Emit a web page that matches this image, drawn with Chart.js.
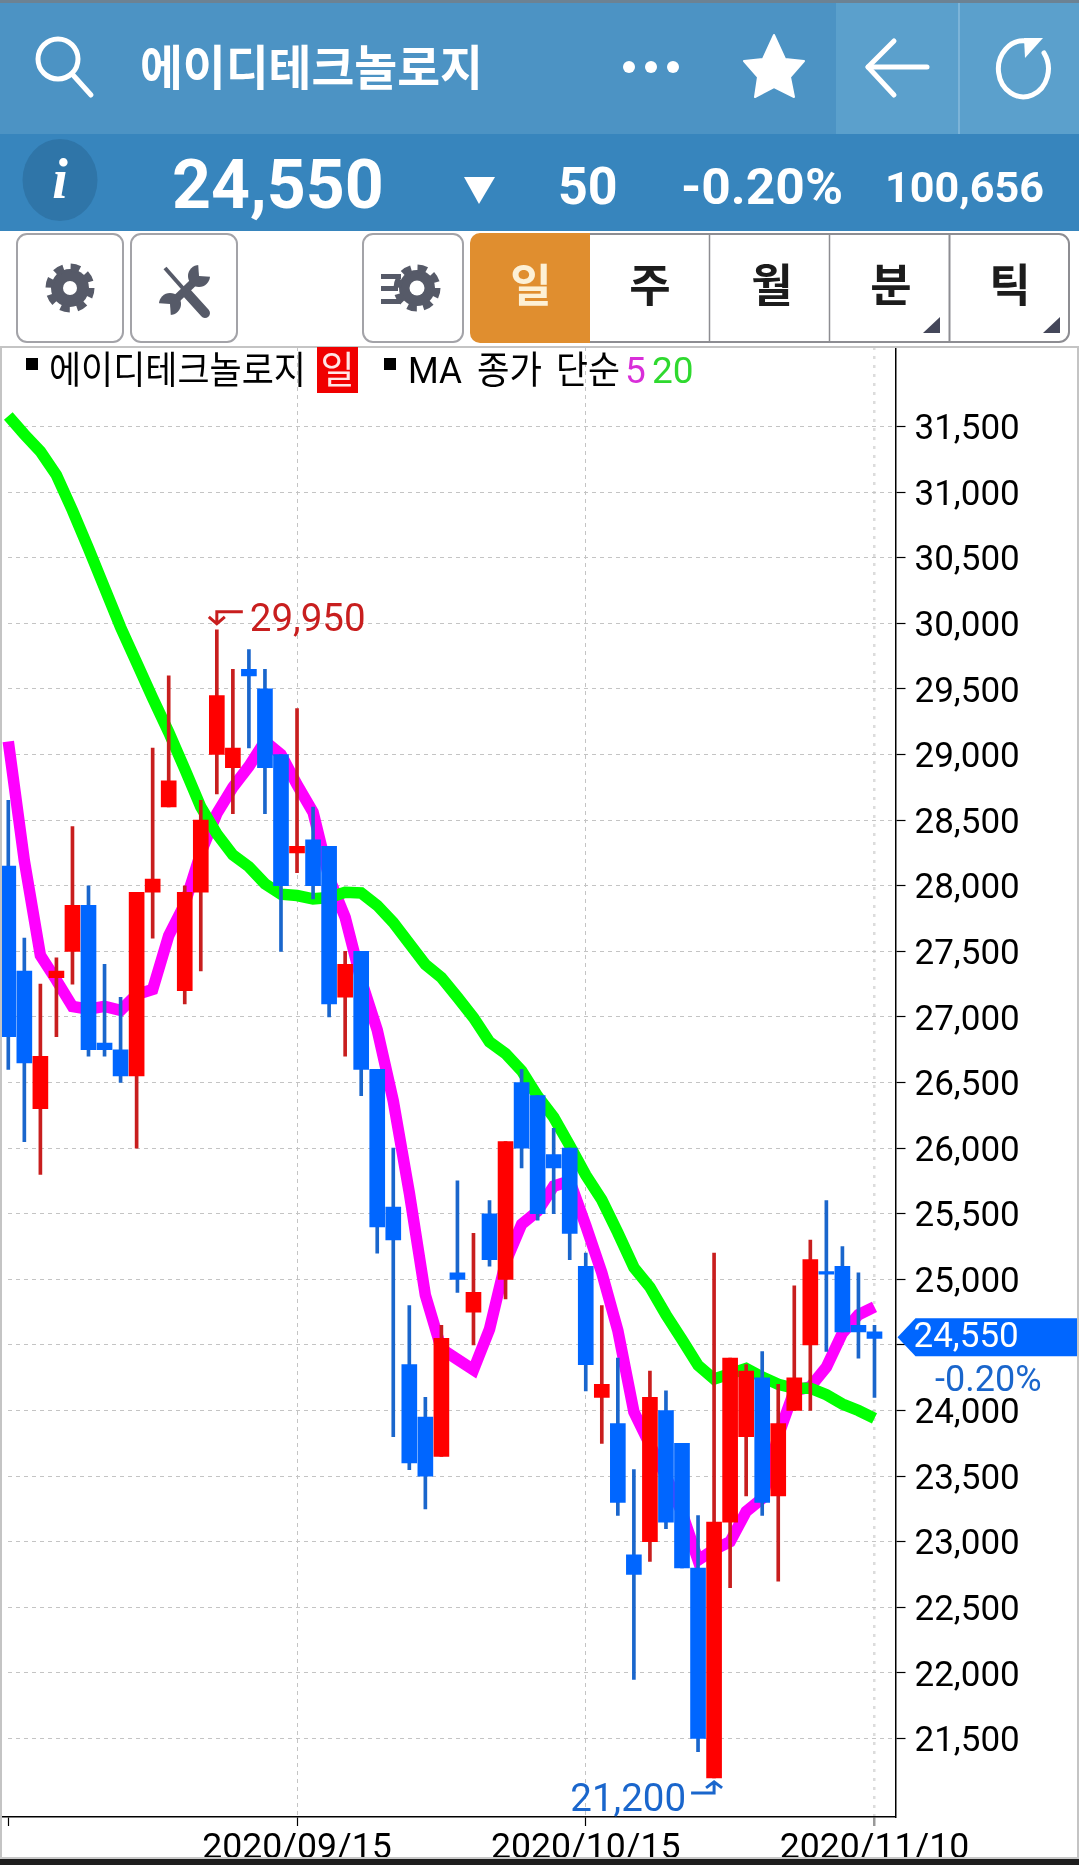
<!DOCTYPE html>
<html lang="ko">
<head>
<meta charset="UTF-8" />
<title>에이디테크놀로지</title>
<script src="https://cdn.jsdelivr.net/npm/chart.js"></script>
<style>
  html, body { margin: 0; padding: 0; background: #fff; overflow: hidden; }
  #page { position: relative; width: 1079px; height: 1865px; overflow: hidden; }
  #chrome { position: absolute; left: 0; top: 0; z-index: 2; }
  #chartWrap { position: absolute; left: 0; top: 347px; width: 1079px; height: 1518px; z-index: 1; }
  #chrome text { font-family: "Noto Sans CJK KR", sans-serif; }
  #chrome text.num { font-family: Roboto, sans-serif; font-weight: 700; fill: #fff; }
  #chrome text.tab { font-weight: 700; font-size: 45px; fill: #1c1c1c; text-anchor: middle; }
  #chrome text.leg { font-size: 38px; fill: #000; }
  #chrome text.legn { font-family: Roboto, sans-serif; font-size: 37px; }
  #bottomBar { position: absolute; left: 0; top: 1857px; width: 1079px; height: 8px; background: #1e1e1e; border-top: 2px solid #c8c8c8; box-sizing: border-box; z-index: 3; }
  #frameL, #frameR { position: absolute; top: 347px; width: 2px; height: 1510px; background: #c4c4c4; z-index: 2; }
  #frameL { left: 0; }
  #frameR { left: 1077px; }
</style>
</head>
<body>
<div id="page">
  <svg id="chrome" width="1079" height="400" xmlns="http://www.w3.org/2000/svg">
    <rect x="0" y="0" width="1079" height="3" fill="#6c8293"/>
    <rect x="0" y="3" width="1079" height="131" fill="#4c93c4"/>
    <rect x="836" y="3" width="243" height="131" fill="#5ba0cc"/>
    <rect x="958" y="3" width="2" height="131" fill="#7cb4d8"/>
    <rect x="0" y="134" width="1079" height="97" fill="#3785bd"/>

    <!-- search -->
    <circle cx="58" cy="59" r="20" fill="none" stroke="#fff" stroke-width="5"/>
    <line x1="73" y1="75" x2="91" y2="95" stroke="#fff" stroke-width="5" stroke-linecap="round"/>
    <text x="140" y="85" font-size="48" font-weight="700" fill="#fff" textLength="343" lengthAdjust="spacingAndGlyphs">에이디테크놀로지</text>

    <circle cx="629" cy="67" r="6" fill="#fff"/>
    <circle cx="651" cy="67" r="6" fill="#fff"/>
    <circle cx="673" cy="67" r="6" fill="#fff"/>
    <polygon points="774,35 785,59 804,61 790,77 794,97 774,87 755,97 758,77 744,61 763,59" fill="#fff" stroke="#fff" stroke-width="2" stroke-linejoin="round"/>
    <polyline points="894,41 868,67 894,95" fill="none" stroke="#fff" stroke-width="5" stroke-linecap="round" stroke-linejoin="round"/>
    <line x1="868" y1="67" x2="927" y2="67" stroke="#fff" stroke-width="5" stroke-linecap="round"/>
    <path d="M1044 53 A25 28 0 1 1 1026 41" fill="none" stroke="#fff" stroke-width="5" stroke-linecap="round"/>
    <polygon points="1024,38 1043,38 1025,58" fill="#fff"/>

    <!-- info row -->
    <ellipse cx="60" cy="180" rx="37.5" ry="41" fill="#2f75a8"/>
    <text x="60" y="198" text-anchor="middle" font-size="56" font-weight="700" font-style="italic" fill="#fff" style="font-family:'Liberation Serif',serif">i</text>
    <text class="num" x="172" y="208" font-size="68">24,550</text>
    <polygon points="464,177 495,177 479,204" fill="#fff"/>
    <text class="num" x="558" y="204" font-size="52">50</text>
    <text class="num" x="681" y="204" font-size="50" textLength="162" lengthAdjust="spacingAndGlyphs">-0.20%</text>
    <text class="num" x="885" y="202" font-size="43" textLength="159" lengthAdjust="spacingAndGlyphs">100,656</text>

    <!-- toolbar -->
    <rect x="17" y="234" width="106" height="108" rx="10" fill="#fff" stroke="#a3a3a8" stroke-width="2"/>
    <rect x="131" y="234" width="106" height="108" rx="10" fill="#fff" stroke="#a3a3a8" stroke-width="2"/>
    <rect x="363" y="234" width="100" height="108" rx="10" fill="#fff" stroke="#a3a3a8" stroke-width="2"/>
    <g fill="#565a68" stroke="none">
      <circle cx="70" cy="288" r="19"/>
      <circle cx="70" cy="288" r="20.5" fill="none" stroke="#565a68" stroke-width="8" stroke-dasharray="9 7.1"/>
      <circle cx="70" cy="288" r="7" fill="#fff"/>
      <circle cx="417" cy="288" r="18"/>
      <circle cx="417" cy="288" r="19.5" fill="none" stroke="#565a68" stroke-width="8" stroke-dasharray="9 6.3"/>
      <circle cx="417" cy="288" r="7.5" fill="#fff"/>
      <rect x="381" y="274" width="20" height="5"/>
      <rect x="381" y="286" width="17" height="5"/>
      <rect x="381" y="299" width="20" height="5"/>
    </g>
    <g stroke="#565a68" fill="none">
      <line x1="165" y1="268" x2="188" y2="294" stroke-width="4"/>
      <line x1="186" y1="292" x2="205" y2="313" stroke-width="10" stroke-linecap="round"/>
      <line x1="197" y1="279" x2="170" y2="305" stroke-width="8"/>
    </g>
    <circle cx="199" cy="276" r="11" fill="#565a68"/>
    <polygon points="199,276 198,262 214,262 214,277" fill="#fff"/>
    <circle cx="170" cy="304" r="11" fill="#565a68"/>
    <polygon points="170,304 171,318 156,318 156,303" fill="#fff"/>

    <path d="M480 233 H590 V343 H480 A10 10 0 0 1 470 333 V243 A10 10 0 0 1 480 233 Z" fill="#e08e2f"/>
    <path d="M590 234 H1059 A10 10 0 0 1 1069 244 V332 A10 10 0 0 1 1059 342 H590" fill="#fff" stroke="#8d8d92" stroke-width="2"/>
    <line x1="709.5" y1="234" x2="709.5" y2="342" stroke="#8d8d92" stroke-width="1.5"/>
    <line x1="829.5" y1="234" x2="829.5" y2="342" stroke="#8d8d92" stroke-width="1.5"/>
    <line x1="949.5" y1="234" x2="949.5" y2="342" stroke="#8d8d92" stroke-width="2"/>
    <text class="tab" x="531" y="302" style="fill:#fdf0d5">일</text>
    <text class="tab" x="650" y="302">주</text>
    <text class="tab" x="772" y="302">월</text>
    <text class="tab" x="891" y="302">분</text>
    <text class="tab" x="1010" y="302">틱</text>
    <polygon points="923,333 940,333 940,317" fill="#44475a"/>
    <polygon points="1043,333 1060,333 1060,317" fill="#44475a"/>

    <!-- legend -->
    <rect x="0" y="346" width="1079" height="2" fill="#c4c4c4"/>
    <rect x="26" y="358" width="12" height="12" fill="#000"/>
    <text class="leg" x="49" y="383" textLength="257" lengthAdjust="spacingAndGlyphs">에이디테크놀로지</text>
    <rect x="317" y="347" width="41" height="46" fill="#f00000"/>
    <text class="leg" x="337.5" y="383" text-anchor="middle" style="fill:#ffe6e6" textLength="34" lengthAdjust="spacingAndGlyphs">일</text>
    <rect x="384" y="358" width="12" height="12" fill="#000"/>
    <text class="legn" x="408" y="383" style="fill:#000" textLength="54" lengthAdjust="spacingAndGlyphs">MA</text>
    <text class="leg" x="477" y="383" textLength="65" lengthAdjust="spacingAndGlyphs">종가</text>
    <text class="leg" x="556" y="383" textLength="64" lengthAdjust="spacingAndGlyphs">단순</text>
    <text class="legn" x="625" y="383" style="fill:#d92ed9">5</text>
    <text class="legn" x="652" y="383" style="fill:#2fd92f">20</text>
  </svg>

  <div id="chartWrap"><canvas id="chart" width="1079" height="1518"></canvas></div>
  <div id="frameL"></div>
  <div id="frameR"></div>
  <div id="bottomBar"></div>
</div>

<script>
  const opens = [28150, 27350, 26300, 27300, 27500, 27850, 26800, 26750, 26550, 27950, 28600, 27200, 27950, 29000, 28900, 29650, 29500, 29000, 28250, 28350,
    28300, 27150, 27500, 26600, 25550, 24350, 23950, 23650, 25050, 24750, 25500, 25000, 26500, 26400, 25950, 26000, 25100, 24100, 23900, 22900,
    23000, 24000, 23750, 22800, 21200, 23150, 23800, 24250, 23350, 24000, 24500, 25060, 25100, 24650, 24600];
  const closes = [26850, 26650, 26700, 27350, 27850, 26750, 26750, 26550, 27950, 28050, 28800, 27950, 28500, 29450, 29050, 29600, 28900, 28000, 28300, 28000,
    27100, 27400, 26600, 25400, 25300, 23600, 23500, 24550, 25000, 24900, 25150, 26050, 26000, 25500, 25850, 25350, 24350, 24200, 23300, 22750,
    24100, 23150, 22800, 21500, 23150, 24400, 24300, 23300, 23900, 24250, 25150, 25040, 24600, 24600, 24550];
  const highs = [28650, 27600, 27250, 27450, 28450, 28000, 27400, 27150, 27950, 29050, 29600, 28000, 28650, 29950, 29650, 29800, 29650, 29000, 29350, 28600,
    28300, 27500, 27500, 26600, 26000, 24800, 24100, 24650, 25750, 25350, 25600, 26050, 26600, 26400, 26150, 26000, 25200, 24800, 24400, 23550,
    24300, 24150, 23750, 23200, 25200, 24400, 24350, 24450, 24200, 24950, 25300, 25600, 25250, 25050, 24650];
  const lows = [26600, 26050, 25800, 26850, 27250, 26700, 26700, 26500, 26000, 27600, 28600, 27100, 27350, 28700, 28550, 29050, 28550, 27500, 28100, 27900,
    27000, 26700, 26400, 25200, 23800, 23550, 23250, 23650, 24900, 24500, 25100, 24850, 25850, 25450, 25500, 25150, 24150, 23750, 23200, 21950,
    22850, 23100, 22800, 21400, 21200, 22650, 23350, 23200, 22700, 24000, 24000, 24450, 24600, 24400, 24100];
  const ma5 = [29100, 28190, 27470, 27280, 27080, 27060, 27080, 27050, 27170, 27210, 27620, 27860, 28250, 28550, 28750, 28910, 29100, 29000, 28770, 28560,
    28060, 27760, 27280, 26900, 26360, 25660, 24880, 24470, 24390, 24310, 24620, 25130, 25420, 25520, 25710, 25750, 25410, 25050, 24610, 23990,
    23740, 23500, 23220, 22860, 22940, 23000, 23230, 23330, 23810, 24150, 24180, 24330, 24590, 24730, 24790];
  const ma20 = [31580, 31440, 31310, 31130, 30860, 30570, 30270, 29970, 29700, 29430, 29170, 28890, 28600, 28395, 28235, 28145, 28015, 27935, 27925, 27900,
    27910, 27950, 27945, 27850, 27720, 27560, 27400, 27300, 27150, 26995, 26810, 26720, 26590, 26395, 26235, 26020, 25795, 25605, 25355, 25090,
    24940, 24730, 24540, 24345, 24240, 24280, 24320, 24255, 24200, 24170, 24170, 24120, 24050, 24000, 23940];

  const yTicks = [31500, 31000, 30500, 30000, 29500, 29000, 28500, 28000, 27500, 27000, 26500, 26000, 25500, 25000, 24500, 24000, 23500, 23000, 22500, 22000, 21500];
  const xTickIndex = [0, 18, 36, 54];
  const xTickLabels = ['', '2020/09/15', '2020/10/15', '2020/11/10'];

  const lastPrice = 24550;
  const lastChange = '-0.20%';
  const highMark = { index: 13, value: 29950 };
  const lowMark = { index: 44, value: 21200 };

  const RED = '#ff0000', BLUE = '#0066ff', RED_WICK = '#c81e1e', BLUE_WICK = '#1a66cc';
  const FONT = 'Roboto';
  const fmt = v => v.toLocaleString('en-US');

  const isUp = closes.map((c, i) => c >= opens[i]);

  // keep the plot area flush with the canvas edges
  const noPadding = s => { s.paddingTop = s.paddingBottom = s.paddingLeft = s.paddingRight = 0; };

  // high/low arrows, last price tag
  const marks = {
    id: 'marks',
    beforeDatasetsDraw(chart) {
      // horizontal grid starts a little off the left edge
      chart.ctx.fillStyle = '#fff';
      chart.ctx.fillRect(0, 0, 7, chart.chartArea.bottom - 1);
    },
    afterDatasetsDraw(chart) {
      const ctx = chart.ctx, xs = chart.scales.x, ys = chart.scales.y;
      ctx.save();
      ctx.font = '38.5px ' + FONT;
      ctx.textBaseline = 'alphabetic';
      ctx.lineWidth = 3;

      let x = xs.getPixelForValue(highMark.index), y = ys.getPixelForValue(highMark.value);
      ctx.strokeStyle = ctx.fillStyle = RED_WICK;
      ctx.beginPath();
      ctx.moveTo(x + 26, y - 18); ctx.lineTo(x, y - 18); ctx.lineTo(x, y - 6);
      ctx.moveTo(x - 8, y - 13); ctx.lineTo(x, y - 6); ctx.lineTo(x + 8, y - 13);
      ctx.stroke();
      ctx.textAlign = 'left';
      ctx.fillText(fmt(highMark.value), x + 33, y + 1);

      x = xs.getPixelForValue(lowMark.index); y = ys.getPixelForValue(lowMark.value);
      ctx.strokeStyle = ctx.fillStyle = BLUE_WICK;
      ctx.beginPath();
      ctx.moveTo(x - 23, y + 15); ctx.lineTo(x, y + 15); ctx.lineTo(x, y + 4);
      ctx.moveTo(x - 8, y + 10); ctx.lineTo(x, y + 4); ctx.lineTo(x + 8, y + 10);
      ctx.stroke();
      ctx.textAlign = 'right';
      ctx.fillText(fmt(lowMark.value), x - 28, y + 33);

      // tag on the price axis
      y = ys.getPixelForValue(lastPrice) - 1;
      const ax = chart.chartArea.right;
      ctx.fillStyle = BLUE;
      ctx.beginPath();
      ctx.moveTo(ax + 2, y); ctx.lineTo(ax + 20, y - 19); ctx.lineTo(1077, y - 19);
      ctx.lineTo(1077, y + 19); ctx.lineTo(ax + 20, y + 19); ctx.closePath();
      ctx.fill();
      ctx.font = '35px ' + FONT;
      ctx.textAlign = 'left';
      ctx.fillStyle = '#fff';
      ctx.fillText(fmt(lastPrice), ax + 18, y + 10);
      ctx.font = '36px ' + FONT;
      ctx.fillStyle = BLUE_WICK;
      ctx.fillText(lastChange, 935, y + 54);
      ctx.restore();
    }
  };

  new Chart(document.getElementById('chart'), {
    type: 'bar',
    data: {
      datasets: [
        {
          type: 'line', label: 'MA5', data: ma5.map((v, i) => ({ x: i, y: v })), order: 3,
          borderColor: '#ff00ff', borderWidth: 11.5, pointRadius: 0, tension: 0, borderJoinStyle: 'miter'
        },
        {
          type: 'line', label: 'MA20', data: ma20.map((v, i) => ({ x: i, y: v })), order: 2,
          borderColor: '#00ff00', borderWidth: 11.5, pointRadius: 0, tension: 0, borderJoinStyle: 'miter'
        },
        {
          label: 'wick', data: highs.map((h, i) => ({ x: i, y: [lows[i], h] })), order: 1, grouped: false,
          barThickness: 3, borderWidth: 0, backgroundColor: isUp.map(u => u ? RED_WICK : BLUE_WICK)
        },
        {
          label: 'body', data: opens.map((o, i) => ({ x: i, y: [o, closes[i]] })), order: 0, grouped: false,
          barThickness: 15, borderWidth: 0, backgroundColor: isUp.map(u => u ? RED : BLUE)
        }
      ]
    },
    options: {
      responsive: false,
      animation: false,
      devicePixelRatio: 1,
      layout: { padding: 0, autoPadding: false },
      plugins: { legend: { display: false }, title: { display: false }, tooltip: { enabled: false } },
      scales: {
        x: {
          type: 'linear', offset: false, min: -0.5175, max: 55.31,
          afterBuildTicks: s => { s.ticks = xTickIndex.map(v => ({ value: v })); },
          afterFit: s => { s.height = 48; noPadding(s); },
          ticks: {
            color: '#000', font: { family: FONT, size: 35.6 }, maxRotation: 0, autoSkip: false, padding: 2,
            callback: v => xTickLabels[xTickIndex.indexOf(v)]
          },
          grid: {
            offset: false, drawTicks: true, tickLength: 9,
            color: c => c.tick && c.tick.value === 0 ? 'rgba(0,0,0,0)' : c.tick && c.tick.value === 54 ? '#dcdcdc' : '#c4c4c4',
            lineWidth: c => c.tick && c.tick.value === 54 ? 2.5 : 1,
            tickColor: c => c.tick && c.tick.value === 54 ? '#999' : '#000',
            tickWidth: c => c.tick && c.tick.value === 54 ? 2.5 : 1.2
          },
          border: { display: true, color: '#000', width: 1.5, dash: c => c.tick && c.tick.value === 54 ? [3, 6] : [4, 4] }
        },
        y: {
          position: 'right', type: 'linear', min: 20902, max: 32106,
          afterBuildTicks: s => { s.ticks = yTicks.map(v => ({ value: v })); },
          afterFit: s => { s.width = 183.5; noPadding(s); },
          ticks: {
            color: '#000', font: { family: FONT, size: 35 }, padding: 9, autoSkip: false, labelOffset: 4,
            callback: v => v === 24500 ? '' : fmt(v)
          },
          grid: { color: '#c4c4c4', lineWidth: 1, tickLength: 10, tickColor: '#000', tickWidth: 1.2 },
          border: { display: true, color: '#000', width: 1.5, dash: [4, 4] }
        }
      }
    },
    plugins: [marks]
  });
</script>
</body>
</html>
